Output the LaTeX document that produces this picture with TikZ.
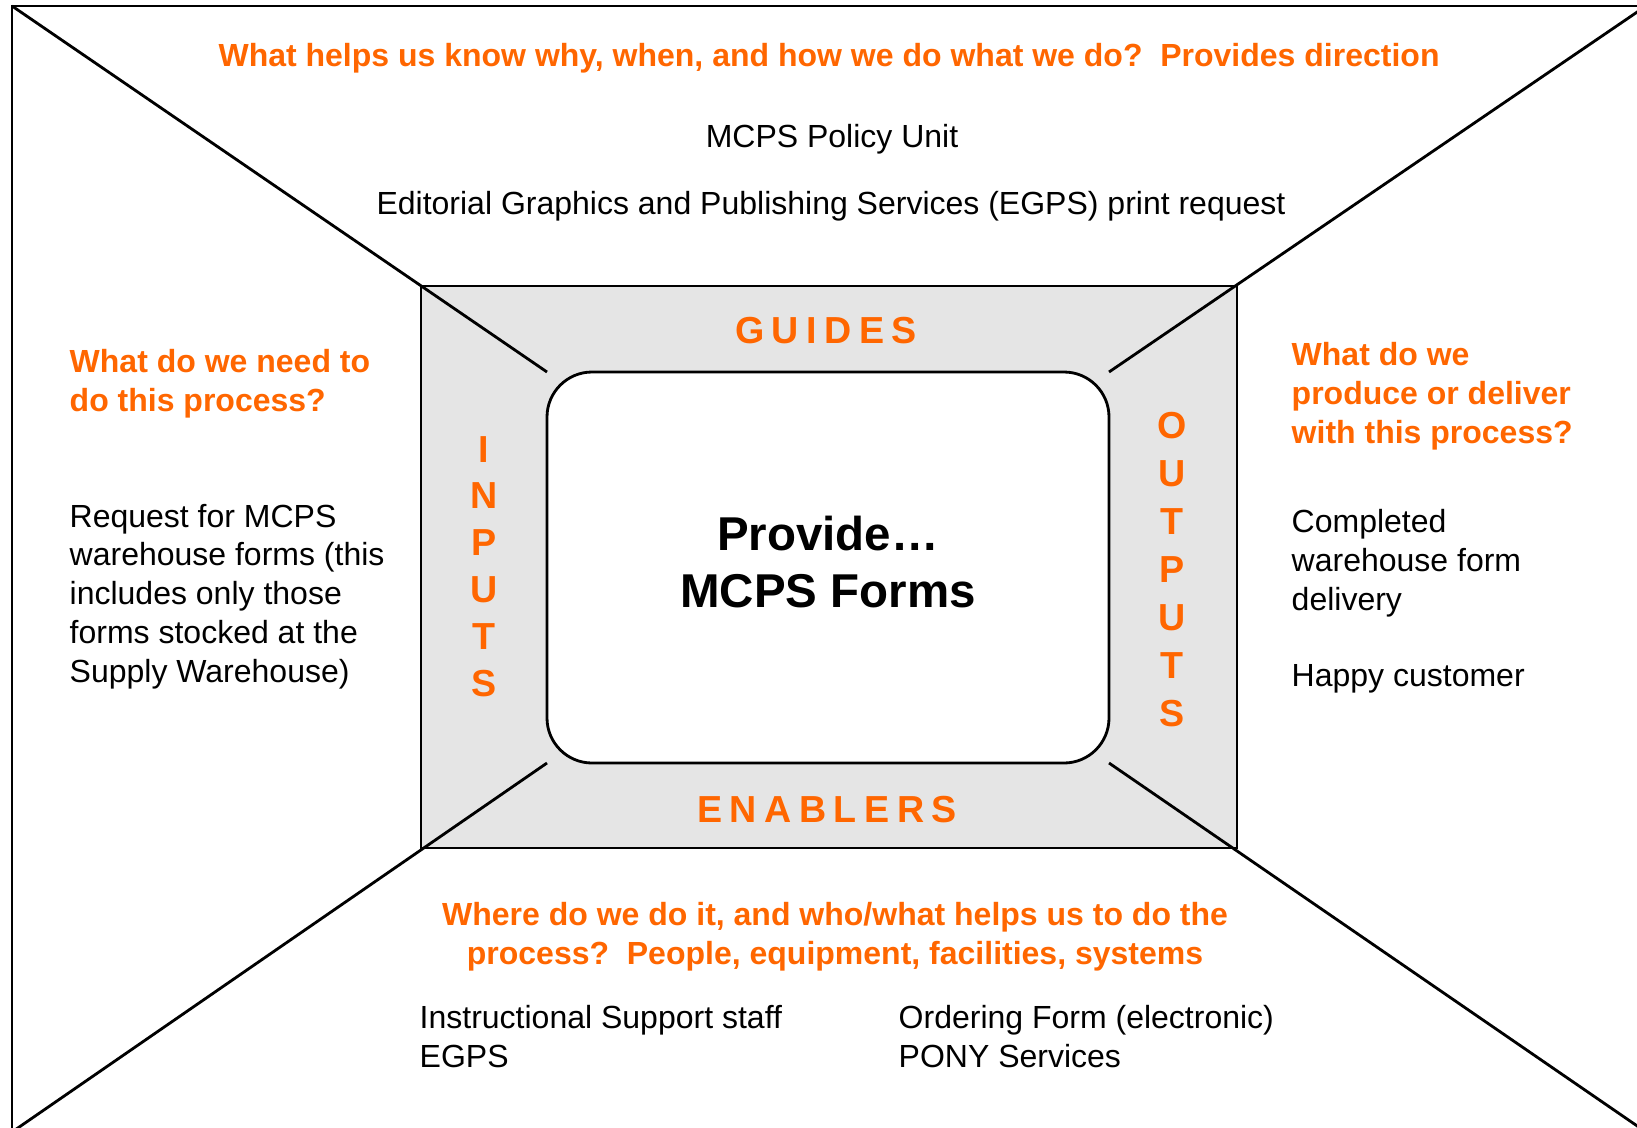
\documentclass[tikz,border=0pt]{standalone}
\usepackage{fontspec}
\setmainfont{Liberation Sans}
\usepackage{xcolor}
\usetikzlibrary{fit}

\definecolor{askorange}{HTML}{FF6600}
\definecolor{ringgray}{HTML}{E5E5E5}

\tikzset{
    boxline/.style={draw, line width=0.8pt},
    question/.style={text=askorange, font=\bfseries\fontsize{9.1}{11}\selectfont, inner sep=0pt},
    answer/.style={font=\fontsize{9.1}{11}\selectfont, inner sep=0pt},
    spreadword/.style={text=askorange, font=\bfseries\fontsize{10.7}{13}\selectfont\addfontfeature{LetterSpace=20}, inner sep=0pt},
    stackword/.style={text=askorange, font=\bfseries\fontsize{10.7}{#1}\selectfont, align=center, inner sep=0pt},
    processbox/.style={boxline, fill=white, rounded corners=0.45cm, inner sep=0pt},
    processname/.style={font=\bfseries\fontsize{13.5}{16.2}\selectfont, align=center, inner sep=0pt}
}

\begin{document}
\begin{tikzpicture}[x=0.01cm, y=-0.01cm]
                    \clip (0, 0) rectangle (1637, 1127);

                    \coordinate (o1) at (12, 6);
                    \coordinate (o2) at (1646, 6);
                    \coordinate (o3) at (1646, 1132);
                    \coordinate (o4) at (12, 1132);

                    \coordinate (g1) at (421, 286);
                    \coordinate (g2) at (1237, 286);
                    \coordinate (g3) at (1237, 848);
                    \coordinate (g4) at (421, 848);

                    \coordinate (c1) at (547, 372);
                    \coordinate (c2) at (1109, 372);
                    \coordinate (c3) at (1109, 763);
                    \coordinate (c4) at (547, 763);

                    \draw[boxline] (o1) rectangle (o3);
                    \draw[boxline, fill=ringgray] (g1) rectangle (g3);
                    \draw[boxline]
                    (o1) -- (c1)
                    (o2) -- (c2)
                    (o3) -- (c3)
                    (o4) -- (c4);

                    \node[processbox, fit=(c1)(c3)] (process) {};
                    \node[processname, anchor=base] (processname) at (828, 607) {Provide…\\MCPS Forms};

                    \node[spreadword, anchor=base] (guides) at (826, 343) {GUIDES};
                    \node[spreadword, anchor=base] (enablers) at (827, 822) {ENABLERS};
                    \node[stackword=13.3pt, anchor=base] (inputs) at (484, 696) {I\\N\\P\\U\\T\\S};
                    \node[stackword=13.65pt, anchor=base] (outputs) at (1172, 726.7) {O\\U\\T\\P\\U\\T\\S};

                    \node[question, anchor=base] (guidesq) at (829, 67) {What helps us know why, when, and how we do what we do?\ \ Provides direction};
                    \node[answer, anchor=base] (policy) at (832, 147) {MCPS Policy Unit};
                    \node[answer, anchor=base] (printreq) at (831, 214) {Editorial Graphics and Publishing Services (EGPS) print request};

                    \node[question, anchor=base west, align=left] (inputsq) at (69, 411) {What do we need to\\do this process?};
                    \node[answer, anchor=base west, align=left] (formreq) at (69, 682) {Request for MCPS\\warehouse forms (this\\includes only those\\forms stocked at the\\Supply Warehouse)};

                    \node[question, anchor=base west, align=left] (outputsq) at (1291, 443) {What do we\\produce or deliver\\with this process?};
                    \node[answer, anchor=base west, align=left] (delivery) at (1291, 610) {Completed\\warehouse form\\delivery};
                    \node[answer, anchor=base west] (customer) at (1291, 686) {Happy customer};

                    \node[question, anchor=base, align=center] (enablersq) at (835, 964) {Where do we do it, and who/what helps us to do the\\process?\ \ People, equipment, facilities, systems};
                    \node[answer, anchor=base west, align=left] (staff) at (419, 1067) {Instructional Support staff\\EGPS};
                    \node[answer, anchor=base west, align=left] (orderform) at (898, 1067) {Ordering Form (electronic)\\PONY Services};
                \end{tikzpicture}
\end{document}
